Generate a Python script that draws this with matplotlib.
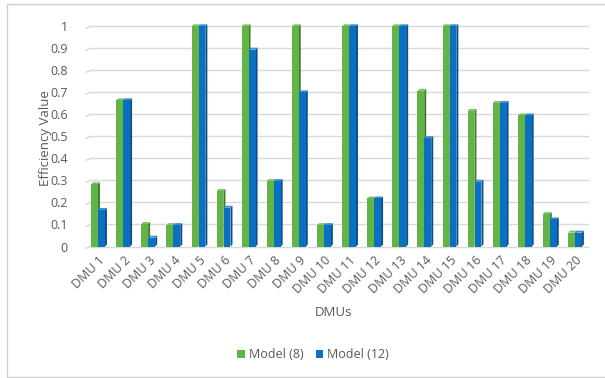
import matplotlib
matplotlib.use("Agg")
import matplotlib.pyplot as plt
from matplotlib.collections import PolyCollection
from matplotlib.patches import Rectangle
import numpy as np

categories = [f"DMU {i}" for i in range(1, 21)]
model_8 = [0.283, 0.664, 0.102, 0.097, 1.0, 0.252, 1.0, 0.297, 1.0, 0.097,
           1.0, 0.218, 1.0, 0.707, 1.0, 0.616, 0.652, 0.595, 0.147, 0.063]
model_12 = [0.166, 0.664, 0.040, 0.097, 1.0, 0.176, 0.894, 0.297, 0.700, 0.097,
            1.0, 0.218, 1.0, 0.492, 1.0, 0.294, 0.652, 0.595, 0.123, 0.063]
series_names = ["Model (8)", "Model (12)"]

text_color = "#595959"
grid_color = "#D9D9D9"
front_colors = ["#62B446", "#0A71C0"]
side_colors = ["#3E7D2B", "#08508C"]
top_colors = ["#7CC463", "#3A8ED0"]

plt.rcParams["font.family"] = ["Open Sans", "DejaVu Sans"]

fig = plt.figure(figsize=(6.05, 3.78), dpi=100)
ax = fig.add_axes([86 / 605, 1 - 246.5 / 378, 502 / 605, 220.2 / 378])

x = np.arange(len(categories))
width = 0.27
offsets = [-0.16, 0.12]
dx, dy = 0.08, 0.009  # depth of the 3D bar faces (data units)

# horizontal gridlines with a short receding segment at the left wall
yticks = np.round(np.arange(0, 1.01, 0.1), 1)
for yv in yticks:
    ax.plot([-0.5 + 0.2, 19.5], [yv, yv], color=grid_color, lw=1.0, zorder=0,
            clip_on=False)
    ax.plot([-0.5, -0.5 + 0.2], [yv - 0.008, yv], color=grid_color, lw=1.0,
            zorder=0, clip_on=False)

for k, vals in enumerate([model_8, model_12]):
    centers = x + offsets[k]
    x0 = centers - width / 2
    x1 = centers + width / 2
    sides = [[(a1, 0), (a1 + dx, dy), (a1 + dx, h + dy), (a1, h)]
             for a1, h in zip(x1, vals)]
    tops = [[(a0, h), (a1, h), (a1 + dx, h + dy), (a0 + dx, h + dy)]
            for a0, a1, h in zip(x0, x1, vals)]
    z = 2 + k * 3
    ax.add_collection(PolyCollection(sides, facecolors=side_colors[k],
                                     edgecolors="none", zorder=z, clip_on=False))
    ax.add_collection(PolyCollection(tops, facecolors=top_colors[k],
                                     edgecolors="none", zorder=z + 1, clip_on=False))
    ax.bar(centers, vals, width=width, color=front_colors[k], zorder=z + 2,
           label=series_names[k], clip_on=False)

ax.set_xlim(-0.5, 19.5)
ax.set_ylim(0, 1)
ax.set_yticks(yticks)
ax.set_yticklabels([f"{v:g}" for v in yticks])
ax.set_xticks(x)
ax.set_xticklabels(categories, rotation=45, ha="right", rotation_mode="anchor")
ax.tick_params(axis="both", length=0, colors=text_color, labelsize=9)
ax.tick_params(axis="y", pad=13)
ax.tick_params(axis="x", pad=5)
for sp in ax.spines.values():
    sp.set_visible(False)

fig.text(45 / 605, 1 - 138 / 378, "Efficiency Value", color=text_color,
         fontsize=9.5, rotation=90, ha="center", va="center")
fig.text(333 / 605, 1 - 313 / 378, "DMUs", color=text_color, fontsize=9.5,
         ha="center", va="center")

handles, labels = ax.get_legend_handles_labels()
leg = fig.legend(handles, labels, loc="center", ncol=2,
                 bbox_to_anchor=(313 / 605, 1 - 355 / 378), frameon=False,
                 fontsize=9, handlelength=0.6, handleheight=0.6,
                 handletextpad=0.3, columnspacing=1.0)
for t in leg.get_texts():
    t.set_color(text_color)

# chart area frame
fig.patches.append(Rectangle((7 / 605, 1 / 378), 1.2, 373 / 378,
                             transform=fig.transFigure, fill=False,
                             edgecolor="#D0D0D0", lw=1.0))

fig.savefig("out.png", dpi=100)
